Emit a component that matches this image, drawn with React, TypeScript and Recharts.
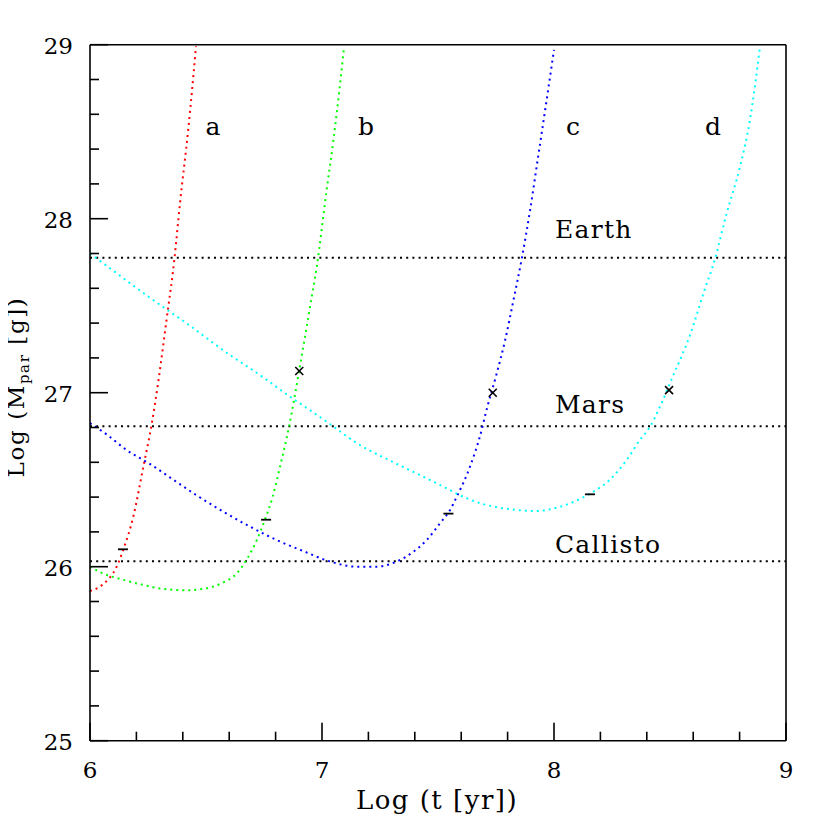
import React from "react";
import { ComposedChart, Line, Scatter, XAxis, YAxis, ReferenceLine } from "recharts";

// ─── Data (Log t [yr], Log M_par [g]) ─────────────────────────────────────────

const CURVE_A: [number, number][] = [
  [6.0, 25.86], [6.057, 25.9], [6.115, 26.0], [6.144, 26.1], [6.187, 26.29],
  [6.23, 26.575], [6.266, 26.82], [6.295, 27.07], [6.33, 27.42], [6.364, 27.77],
  [6.388, 28.09], [6.424, 28.52], [6.457, 28.99],
];

const CURVE_B: [number, number][] = [
  [6.0, 26.0], [6.057, 25.96], [6.129, 25.93], [6.23, 25.895], [6.33, 25.87],
  [6.417, 25.865], [6.503, 25.876], [6.575, 25.91], [6.632, 25.96], [6.675, 26.04],
  [6.718, 26.15], [6.754, 26.27], [6.787, 26.4], [6.819, 26.575], [6.858, 26.805],
  [6.902, 27.13], [6.948, 27.49], [6.977, 27.72], [7.02, 28.165], [7.049, 28.45],
  [7.075, 28.74], [7.095, 28.985],
];

const CURVE_C: [number, number][] = [
  [6.0, 26.825], [6.072, 26.76], [6.158, 26.67], [6.259, 26.59], [6.359, 26.5],
  [6.46, 26.41], [6.575, 26.316], [6.69, 26.23], [6.805, 26.153], [6.919, 26.09],
  [7.034, 26.03], [7.15, 26.0], [7.236, 26.0], [7.322, 26.03], [7.394, 26.086],
  [7.451, 26.153], [7.509, 26.25], [7.552, 26.326], [7.58, 26.4], [7.638, 26.575],
  [7.681, 26.75], [7.713, 26.92], [7.753, 27.11], [7.789, 27.3], [7.825, 27.53],
  [7.861, 27.77], [7.897, 28.05], [7.932, 28.36], [7.968, 28.68], [8.0, 28.97],
];

const CURVE_D: [number, number][] = [
  [6.0, 27.8], [6.086, 27.715], [6.172, 27.63], [6.259, 27.545], [6.345, 27.465],
  [6.431, 27.385], [6.517, 27.3], [6.603, 27.217], [6.69, 27.14], [6.776, 27.06],
  [6.862, 26.977], [6.948, 26.9], [7.034, 26.82], [7.15, 26.71], [7.293, 26.61],
  [7.437, 26.517], [7.545, 26.445], [7.58, 26.42], [7.695, 26.36], [7.78, 26.336],
  [7.839, 26.326], [7.925, 26.32], [7.983, 26.33], [8.069, 26.364], [8.155, 26.42],
  [8.241, 26.5], [8.313, 26.613], [8.371, 26.73], [8.414, 26.805], [8.457, 26.92],
  [8.514, 27.1], [8.55, 27.21], [8.586, 27.33], [8.644, 27.57], [8.694, 27.77],
  [8.744, 28.03], [8.802, 28.3], [8.845, 28.57], [8.888, 28.99],
];

// short horizontal dashes and crosses on the curves
const DASH_MARKS: [number, number][] = [
  [6.142, 26.1], [6.759, 26.27], [7.545, 26.305], [8.155, 26.416],
];
const CROSS_MARKS: [number, number][] = [
  [6.902, 27.125], [7.736, 27.0], [8.496, 27.015],
];

// reference masses (log g)
const EARTH = 27.776;
const MARS = 26.807;
const CALLISTO = 26.032;

const CURVE_LABELS: [number, number, string][] = [
  [6.53, 28.48, "a"], [7.19, 28.48, "b"], [8.082, 28.48, "c"], [8.685, 28.48, "d"],
];
const BODY_LABELS: [number, number, string][] = [
  [8.004, 27.889, "Earth"], [8.004, 26.883, "Mars"], [8.004, 26.079, "Callisto"],
];

const X_TICKS = [6, 6.2, 6.4, 6.6, 6.8, 7, 7.2, 7.4, 7.6, 7.8, 8, 8.2, 8.4, 8.6, 8.8, 9];
const Y_TICKS = [
  25, 25.2, 25.4, 25.6, 25.8, 26, 26.2, 26.4, 26.6, 26.8, 27, 27.2, 27.4, 27.6, 27.8,
  28, 28.2, 28.4, 28.6, 28.8, 29,
];

const toPoints = (arr: [number, number][]) => arr.map(([t, m]) => ({ t, m }));
const toLabels = (arr: [number, number, string][]) => arr.map(([t, m, text]) => ({ t, m, text }));

// ─── Styling helpers ──────────────────────────────────────────────────────────

const FONT = "'DejaVu Serif', serif";
const AXIS_STROKE = "#000";
const DOTS = "2 4";

const isMajor = (v: number) => Math.abs(v - Math.round(v)) < 1e-6;

function BottomTick({ x, y, payload }: any) {
  const major = isMajor(payload.value);
  return (
    <g>
      <line x1={x} x2={x} y1={y} y2={y - (major ? 18 : 9)} stroke={AXIS_STROKE} strokeWidth={1.6} />
      {major && (
        <text x={x} y={y + 37} textAnchor="middle" fontFamily={FONT} fontSize={23} fill="#000">
          {Math.round(payload.value)}
        </text>
      )}
    </g>
  );
}

function TopTick({ x, y, payload }: any) {
  const major = isMajor(payload.value);
  return <line x1={x} x2={x} y1={y} y2={y + (major ? 18 : 9)} stroke={AXIS_STROKE} strokeWidth={1.6} />;
}

function LeftTick({ x, y, payload }: any) {
  const major = isMajor(payload.value);
  return (
    <g>
      <line x1={x} x2={x + (major ? 18 : 9)} y1={y} y2={y} stroke={AXIS_STROKE} strokeWidth={1.6} />
      {major && (
        <text x={x - 17} y={y + 9} textAnchor="end" fontFamily={FONT} fontSize={23} fill="#000">
          {Math.round(payload.value)}
        </text>
      )}
    </g>
  );
}

function RightTick({ x, y, payload }: any) {
  const major = isMajor(payload.value);
  return <line x1={x} x2={x - (major ? 18 : 9)} y1={y} y2={y} stroke={AXIS_STROKE} strokeWidth={1.6} />;
}

function DashMark({ cx, cy }: any) {
  return <line x1={cx - 5} x2={cx + 5} y1={cy} y2={cy} stroke="#000" strokeWidth={1.8} />;
}

function CrossMark({ cx, cy }: any) {
  return (
    <g stroke="#000" strokeWidth={1.6}>
      <line x1={cx - 4} x2={cx + 4} y1={cy - 4} y2={cy + 4} />
      <line x1={cx - 4} x2={cx + 4} y1={cy + 4} y2={cy - 4} />
    </g>
  );
}

function TextMark({ cx, cy, payload, anchor, spacing }: any) {
  return (
    <text
      x={cx}
      y={cy}
      textAnchor={anchor}
      fontFamily={FONT}
      fontSize={25}
      letterSpacing={spacing}
      fill="#000"
    >
      {payload.text}
    </text>
  );
}

const xLabel = () => (
  <text x={429} y={801} textAnchor="middle" fontFamily={FONT} fontSize={26} letterSpacing={1.5} fill="#000">
    Log (t [yr])
  </text>
);

const yLabel = () => (
  <text
    x={16}
    y={379}
    transform="rotate(-90, 16, 379)"
    textAnchor="middle"
    fontFamily={FONT}
    fontSize={23}
    letterSpacing={1.6}
    fill="#000"
  >
    Log (M
    <tspan fontSize={15} dy={5}>par</tspan>
    <tspan dy={-5}> [g])</tspan>
  </text>
);

// ─── Component ────────────────────────────────────────────────────────────────

export default function App() {
  return (
    <div style={{ width: 822, height: 822, background: "#fff" }}>
      <ComposedChart
        width={822}
        height={822}
        margin={{ top: 26.7, right: 34, bottom: 59.3, left: 32 }}
      >
        <XAxis
          dataKey="t"
          type="number"
          domain={[6, 9]}
          ticks={X_TICKS}
          interval={0}
          height={30}
          tickSize={0}
          tickMargin={0}
          tickLine={false}
          tick={<BottomTick />}
          axisLine={{ stroke: AXIS_STROKE, strokeWidth: 1.6 }}
          label={{ content: xLabel }}
        />
        <XAxis
          xAxisId="top"
          orientation="top"
          dataKey="t"
          type="number"
          domain={[6, 9]}
          ticks={X_TICKS}
          interval={0}
          height={10}
          tickSize={0}
          tickMargin={0}
          tickLine={false}
          tick={<TopTick />}
          axisLine={{ stroke: AXIS_STROKE, strokeWidth: 1.6 }}
        />
        <YAxis
          dataKey="m"
          type="number"
          domain={[25, 29]}
          ticks={Y_TICKS}
          interval={0}
          width={50}
          tickSize={0}
          tickMargin={0}
          tickLine={false}
          tick={<LeftTick />}
          axisLine={{ stroke: AXIS_STROKE, strokeWidth: 1.6 }}
          label={{ content: yLabel }}
        />
        <YAxis
          yAxisId="right"
          orientation="right"
          dataKey="m"
          type="number"
          domain={[25, 29]}
          ticks={Y_TICKS}
          interval={0}
          width={10}
          tickSize={0}
          tickMargin={0}
          tickLine={false}
          tick={<RightTick />}
          axisLine={{ stroke: AXIS_STROKE, strokeWidth: 1.6 }}
        />

        <ReferenceLine y={EARTH} stroke="#000" strokeWidth={2} strokeDasharray="2 4.2" />
        <ReferenceLine y={MARS} stroke="#000" strokeWidth={2} strokeDasharray="2 4.2" />
        <ReferenceLine y={CALLISTO} stroke="#000" strokeWidth={2} strokeDasharray="2 4.2" />

        <Line data={toPoints(CURVE_A)} dataKey="m" type="monotone" stroke="#ff0000" strokeWidth={2} strokeDasharray={DOTS} dot={false} activeDot={false} isAnimationActive={false} />
        <Line data={toPoints(CURVE_B)} dataKey="m" type="monotone" stroke="#00ff00" strokeWidth={2} strokeDasharray={DOTS} dot={false} activeDot={false} isAnimationActive={false} />
        <Line data={toPoints(CURVE_C)} dataKey="m" type="monotone" stroke="#0000ff" strokeWidth={2} strokeDasharray={DOTS} dot={false} activeDot={false} isAnimationActive={false} />
        <Line data={toPoints(CURVE_D)} dataKey="m" type="monotone" stroke="#00ffff" strokeWidth={2} strokeDasharray={DOTS} dot={false} activeDot={false} isAnimationActive={false} />

        <Scatter data={toPoints(DASH_MARKS)} dataKey="m" shape={<DashMark />} isAnimationActive={false} />
        <Scatter data={toPoints(CROSS_MARKS)} dataKey="m" shape={<CrossMark />} isAnimationActive={false} />
        <Scatter data={toLabels(CURVE_LABELS)} dataKey="m" shape={<TextMark anchor="middle" spacing={0} />} isAnimationActive={false} />
        <Scatter data={toLabels(BODY_LABELS)} dataKey="m" shape={<TextMark anchor="start" spacing={1.3} />} isAnimationActive={false} />
      </ComposedChart>
    </div>
  );
}
